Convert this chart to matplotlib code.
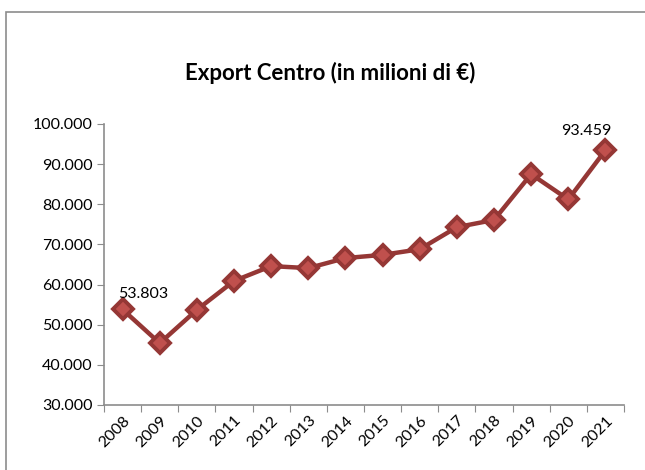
import matplotlib.pyplot as plt
import matplotlib.patches as mpatches
import numpy as np

plt.rcParams['font.family'] = ['Lato', 'DejaVu Sans']

years = ["2008", "2009", "2010", "2011", "2012", "2013", "2014",
         "2015", "2016", "2017", "2018", "2019", "2020", "2021"]
export = [53803, 45400, 53700, 60900, 64600, 64100, 66600,
          67400, 68800, 74300, 76100, 87500, 81200, 93459]
yticks = [30000, 40000, 50000, 60000, 70000, 80000, 90000, 100000]


def fmt_it(v):
    return f"{v:,.0f}".replace(",", ".")


fig = plt.figure(figsize=(6.45, 4.70), dpi=100)
# chart frame
fig.patches.append(mpatches.Rectangle((6 / 645, -0.05), 1.0, 1 - 12 / 470 + 0.05,
                                      transform=fig.transFigure, fill=False,
                                      edgecolor="#8c8c8c", linewidth=1.2))

ax = fig.add_axes([104 / 645, 1 - 405 / 470, 520 / 645, (405 - 124) / 470])
x = np.arange(len(years))
ax.plot(x, export, color="#953735", linewidth=3.2, marker="D", markersize=10.5,
        markerfacecolor="#C0504D", markeredgecolor="#953735", markeredgewidth=2.8,
        zorder=3)

ax.set_xlim(-0.5, len(years) - 0.5)
ax.set_ylim(30000, 100000)
ax.set_yticks(yticks)
ax.set_yticklabels([fmt_it(v) for v in yticks], fontsize=11.5)
ax.set_xticks(np.arange(-0.5, len(years), 1.0))
ax.set_xticklabels([])
ax.set_xticks(x, minor=True)
ax.set_xticklabels(years, minor=True, rotation=45, ha="right", va="top",
                   rotation_mode="anchor", fontsize=11.5)
ax.tick_params(axis="x", which="minor", length=0, pad=6)
ax.tick_params(axis="x", which="major", length=5, color="#8c8c8c", direction="out")
ax.tick_params(axis="y", length=5, color="#8c8c8c", direction="out", pad=3)
for s in ["top", "right"]:
    ax.spines[s].set_visible(False)
for s in ["left", "bottom"]:
    ax.spines[s].set_color("#8c8c8c")
    ax.spines[s].set_linewidth(1.2)

ax.annotate(fmt_it(export[0]), (x[0], export[0]), xytext=(-3, 6),
            textcoords="offset points", fontsize=11.5, ha="left", va="bottom")
ax.annotate(fmt_it(export[-1]), (x[-1], export[-1]), xytext=(-14, 9),
            textcoords="offset points", fontsize=11.5, ha="center", va="bottom")

fig.text(330 / 645, 1 - 73 / 470, "Export Centro (in milioni di €)",
         fontsize=16, fontweight="bold", ha="center", va="center")

fig.savefig("out.png", dpi=100)
